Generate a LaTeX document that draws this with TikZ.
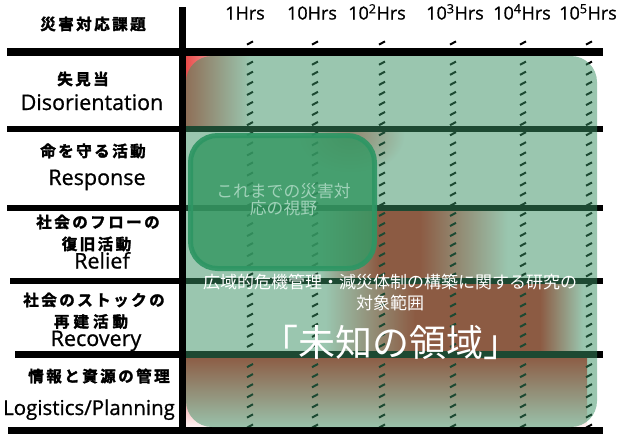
\documentclass[tikz,border=0pt]{standalone}
\usepackage{fontspec}
\setmainfont{Open Sans}
\newfontfamily\latf{Open Sans}[FakeBold=0.8]
\newfontfamily\jpr{Noto Sans CJK JP}
\newfontfamily\jpbs{Noto Sans CJK JP Bold}[LetterSpace=16,FakeBold=2.2]
\newfontfamily\jpbw{Noto Sans CJK JP Bold}[LetterSpace=26,FakeBold=2.2]
\definecolor{gr}{RGB}{57,145,100}
\definecolor{rd}{RGB}{228,36,34}
\definecolor{ig}{RGB}{54,152,99}
\definecolor{ib}{RGB}{46,150,100}
\definecolor{txtl}{RGB}{160,210,185}
\tikzset{
  hline/.style={line width=6.5pt, black},
  tick/.style={line width=2pt, black},
  jlab/.style={font=\jpbs\fontsize{15.5}{17}\selectfont, inner sep=0pt, anchor=center},
  elab/.style={font=\latf\fontsize{21.5}{24}\selectfont, inner sep=0pt, anchor=base},
  hrs/.style={font=\latf\fontsize{18}{20}\selectfont, inner sep=0pt, anchor=base},
}
\begin{document}
\begin{tikzpicture}[x=1pt,y=-1pt]
\useasboundingbox (0,0) rectangle (620,434);
\fill[white] (0,0) rectangle (620,434);

% ---- red underlay (appears brown beneath translucent green)
\shade[left color=rd!85!white, right color=white] (183,56) rectangle (250,126);
\begin{scope}
  \clip (183,131) rectangle (600,206);
  \shade[inner color=rd!60!white, outer color=white] (295,95) rectangle (405,175);
\end{scope}
% row 3
\shade[left color=white, right color=rd] (320,205) rectangle (378,281);
\fill[rd] (378,205) rectangle (420,281);
\shade[left color=rd, right color=white] (420,205) rectangle (508,281);
% row 4
\shade[left color=white, right color=rd] (325,281) rectangle (415,354);
\fill[rd] (415,281) rectangle (540,354);
\shade[left color=rd, right color=white] (540,281) rectangle (583,354);
% row 5
\shade[top color=rd, bottom color=white] (183,356) rectangle (587,430);

% ---- grid lines
\draw[line width=8pt] (7,52) -- (603,52);
\draw[hline] (7,129) -- (603,129);
\draw[hline] (7,208) -- (603,208);
\draw[hline] (10,281) -- (603,281);
\draw[hline] (15,354.5) -- (603,354.5);
\draw[hline] (8,430.5) -- (603,430.5);
\draw[line width=7pt] (182.5,7) -- (182.5,434);

% ---- dashed time lines (slanted ticks)
\foreach \x in {250,315,382,453,523,589}{
  \foreach \k [evaluate=\k as \yy using 43+10.08*\k] in {0,...,38}{
    \draw[tick] (\x-3,\yy+1.6) -- (\x+3,\yy-1.6);
  }
}

% ---- translucent green field
\fill[gr, opacity=0.51, rounded corners=26pt] (186,56) rectangle (597,427);

% ---- inner rounded box
\draw[ib, line width=5pt, fill=ig, fill opacity=0.83, draw opacity=0.92, rounded corners=27pt]
  (190.5,135.5) rectangle (374.5,268.5);
\node[font=\jpr\fontsize{16.8}{17}\selectfont, text=txtl, align=center, inner sep=0pt]
  (past) at (283.5,200) {これまでの災害対\\応の視野};

% ---- white texts
\node[font=\jpr\fontsize{17}{21}\selectfont, text=white, align=center, inner sep=0pt]
  (scope) at (390,292.5) {広域的危機管理・減災体制の構築に関する研究の\\対象範囲};
\node[font=\jpr\fontsize{37}{40}\selectfont, text=white, inner sep=0pt]
  (unknown) at (391,342) {「未知の領域」};

% ---- header
\node[jlab] (head) at (93,24) {災害対応課題};
\node[hrs] (h0) at (245,19.5) {1Hrs};
\node[hrs] (h1) at (312,19.5) {10Hrs};
\node[hrs] (h2) at (377,19.5) {10\textsuperscript{2}Hrs};
\node[hrs] (h3) at (455,19.5) {10\textsuperscript{3}Hrs};
\node[hrs] (h4) at (522,19.5) {10\textsuperscript{4}Hrs};
\node[hrs] (h5) at (588,19.5) {10\textsuperscript{5}Hrs};

% ---- row labels
\node[jlab] (r1j) at (83,79) {失見当};
\node[elab] (r1e) at (92,110) {Disorientation};
\node[jlab] (r2j) at (93,151) {命を守る活動};
\node[elab] (r2e) at (97,185) {Response};
\node[jlab] (r3j) at (98,222) {社会のフローの};
\node[jlab] (r3k) at (96.5,244) {復旧活動};
\node[elab] (r3e) at (102,268.5) {Relief};
\node[jlab] (r4j) at (94,300) {社会のストックの};
\node[jlab, font=\jpbw\fontsize{15.5}{17}\selectfont] (r4k) at (91,321.5) {再建活動};
\node[elab] (r4e) at (96,346) {Recovery};
\node[jlab] (r5j) at (99,376) {情報と資源の管理};
\node[elab, font=\latf\fontsize{20.5}{24}\selectfont] (r5e) at (89,415) {Logistics/Planning};
\end{tikzpicture}
\end{document}
